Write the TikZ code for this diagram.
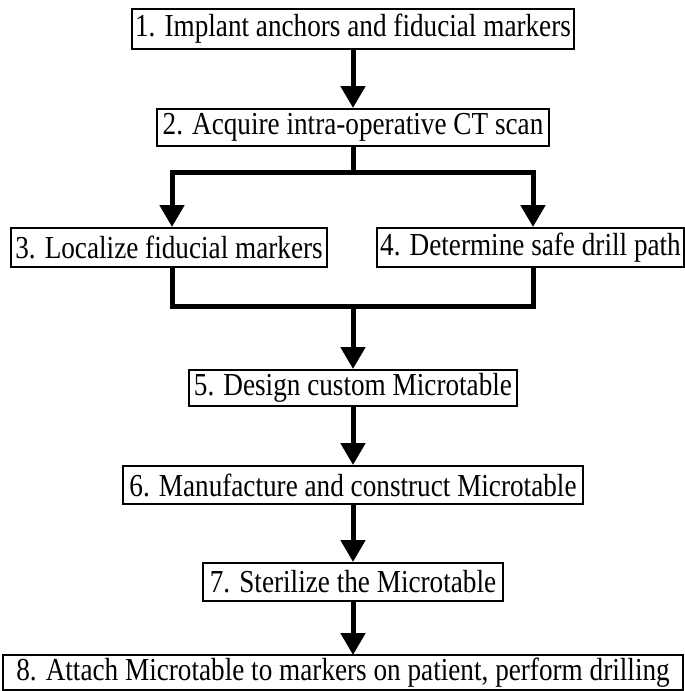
\documentclass[tikz,border=0pt]{standalone}
\usepackage{fontspec}
\setmainfont{Liberation Serif}[FakeStretch=0.85]
\usetikzlibrary{arrows.meta}
\begin{document}
\begin{tikzpicture}[x=1pt,y=-1pt,
  stepbox/.style={draw=black,line width=2pt,inner sep=0pt,minimum height=#1,
    font=\fontsize{32}{34}\selectfont,anchor=center},
  stepbox/.default=38pt,
  conn/.style={draw=black,line width=5pt},
  arr/.style={conn,-{Triangle[length=22pt,width=24pt]}},
  arrb/.style={conn,{Triangle[length=22pt,width=24pt]}-{Triangle[length=22pt,width=24pt]}}
]
\useasboundingbox (0,0) rectangle (685,691);
\node[stepbox=40pt,minimum width=442pt] (b1) at (353,29) {1. Implant anchors and fiducial markers};
\node[stepbox=37pt,minimum width=392pt] (b2) at (353,127.5) {2. Acquire intra-operative CT scan};
\node[stepbox=39pt,minimum width=316pt] (b3) at (169,247.5) {3. Localize fiducial markers};
\node[stepbox=39pt,minimum width=307pt] (b4) at (530.5,247.5) {4. Determine safe drill path};
\node[stepbox=36pt,minimum width=328pt] (b5) at (353,388) {5. Design custom Microtable};
\node[stepbox=38pt,minimum width=460pt] (b6) at (353,485) {6. Manufacture and construct Microtable};
\node[stepbox=38pt,minimum width=300pt] (b7) at (353,582) {7. Sterilize the Microtable};
\node[stepbox=35pt,minimum width=680pt] (b8) at (343,672.5) {8. Attach Microtable to markers on patient, perform drilling};
\coordinate (s) at (353,172);
\coordinate (sL) at (172,172);
\coordinate (sR) at (533,172);
\coordinate (m) at (353,306);
\coordinate (mL) at (172,306);
\coordinate (mR) at (533,306);
\coordinate (e8) at (353,655);
\draw[arr] (b1.south) -- (b2.north);
\draw[conn] (b2.south) -- (s);
\draw[arrb] (sL |- b3.north) -- (sL) -- (sR) -- (sR |- b4.north);
\draw[conn] (mL |- b3.south) -- (mL) -- (mR) -- (mR |- b4.south);
\draw[arr] (m) -- (b5.north);
\draw[arr] (b5.south) -- (b6.north);
\draw[arr] (b6.south) -- (b7.north);
\draw[arr] (b7.south) -- (e8);
\end{tikzpicture}
\end{document}
